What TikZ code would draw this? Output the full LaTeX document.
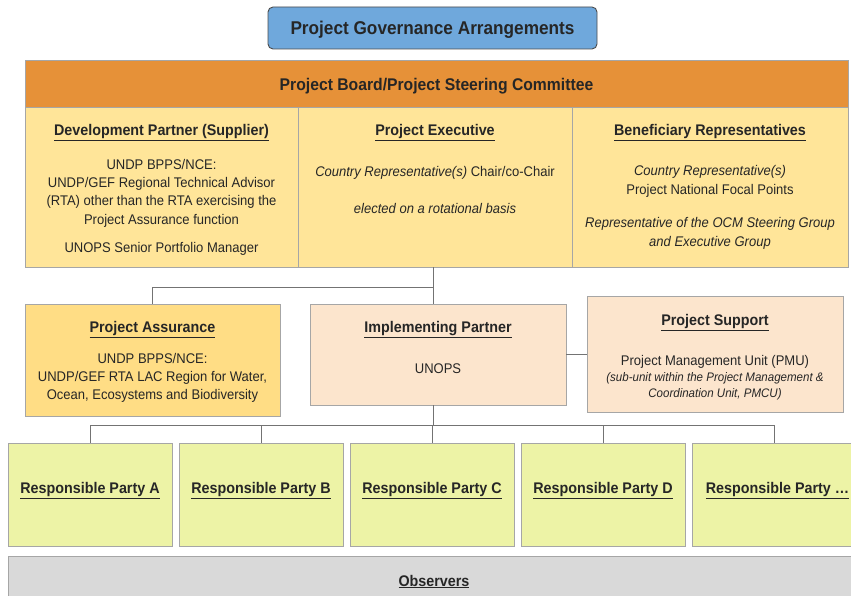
\documentclass[tikz,border=0pt]{standalone}
\usepackage{fontspec}
\setmainfont[FakeStretch=0.93]{Liberation Sans}
\begin{document}
\begin{tikzpicture}[x=1pt,y=-1pt,
  box/.style={draw=black!35,line width=0.9pt,inner sep=0pt,outer sep=0pt,rectangle},
  ttlbox/.style={draw=black!70,line width=0.9pt,rounded corners=5pt,fill=titleblue,inner sep=0pt,outer sep=0pt},
  conn/.style={draw=black!55,line width=1pt},
  txt/.style={inner sep=0pt,align=center,text=black!85,yshift=-2.5pt},
  fT/.style={font=\fontsize{18.5}{22}\selectfont\bfseries},
  fH/.style={font=\fontsize{16.9}{20}\selectfont\bfseries},
  fh/.style={font=\fontsize{15.4}{18}\selectfont},
  fb/.style={font=\fontsize{14}{18.3}\selectfont},
  fs/.style={font=\fontsize{12.4}{16}\selectfont\itshape},
  fr/.style={font=\fontsize{15.4}{18}\selectfont},
]
\definecolor{titleblue}{HTML}{6FA8DC}
\definecolor{boardorange}{HTML}{E69138}
\definecolor{colyellow}{HTML}{FFE599}
\definecolor{assyellow}{HTML}{FFDD85}
\definecolor{peach}{HTML}{FCE5CD}
\definecolor{rpgreen}{HTML}{EDF3A6}
\definecolor{obsgray}{HTML}{D9D9D9}
\newcommand{\hd}[1]{\underline{\textbf{#1}}}
\useasboundingbox (0,0) rectangle (851,596);

% boxes
\node[ttlbox,minimum width=329pt,minimum height=42pt] (title) at (432.5,28) {};
\node[box,fill=boardorange,minimum width=823pt,minimum height=47pt] (board) at (436.5,83.5) {};
\node[box,fill=colyellow,minimum width=273pt,minimum height=160pt] (col1) at (161.5,187) {};
\node[box,fill=colyellow,minimum width=274pt,minimum height=160pt] (col2) at (435,187) {};
\node[box,fill=colyellow,minimum width=276pt,minimum height=160pt] (col3) at (710,187) {};
\node[box,fill=assyellow,minimum width=255pt,minimum height=112pt] (PA) at (152.5,360) {};
\node[box,fill=peach,minimum width=256pt,minimum height=101pt] (IP) at (438,354.5) {};
\node[box,fill=peach,minimum width=256pt,minimum height=116pt] (PS) at (715,354) {};
\node[box,fill=rpgreen,minimum width=164pt,minimum height=103pt] (RA) at (90,494.5) {};
\node[box,fill=rpgreen,minimum width=164pt,minimum height=103pt] (RB) at (261,494.5) {};
\node[box,fill=rpgreen,minimum width=164pt,minimum height=103pt] (RC) at (432,494.5) {};
\node[box,fill=rpgreen,minimum width=164pt,minimum height=103pt] (RD) at (603,494.5) {};
\node[box,fill=rpgreen,minimum width=164pt,minimum height=103pt] (RE) at (774,494.5) {};
\node[box,fill=obsgray,minimum width=852pt,minimum height=50pt] (OB) at (434,581) {};

% connectors
\coordinate (j1) at (433,287);
\coordinate (bus) at (433,425);
\draw[conn] (col2.south -| j1) -- (IP.north -| j1);
\draw[conn] (j1) -| (PA.north);
\draw[conn] (IP.east) -- (IP.east -| PS.west);
\draw[conn] (IP.south -| j1) -- (bus);
\draw[conn] (RA.north) -- (RA.north |- bus) -- (RE.north |- bus) -- (RE.north);
\draw[conn] (RB.north) -- (RB.north |- bus);
\draw[conn] (RC.north) -- (RC.north |- bus);
\draw[conn] (RD.north) -- (RD.north |- bus);

% texts
\node[txt,fT] (tT) at (432.5,27) {Project Governance Arrangements};
\node[txt,fH] (tB) at (436.5,84) {Project Board/Project Steering Committee};

\node[txt,fh] (h1) at (161.5,130) {\hd{Development Partner (Supplier)}};
\node[txt,fb] (b1) at (161.5,190.5) {UNDP BPPS/NCE:\\UNDP/GEF Regional Technical Advisor\\(RTA) other than the RTA exercising the\\Project Assurance function};
\node[txt,fb] (b1b) at (161.5,246) {UNOPS Senior Portfolio Manager};

\node[txt,fh] (h2) at (435,130) {\hd{Project Executive}};
\node[txt,fb] (b2) at (435,170) {\textit{Country Representative(s)} Chair/co-Chair};
\node[txt,fb] (b2b) at (435,206) {\textit{elected on a rotational basis}};

\node[txt,fh] (h3) at (710,130) {\hd{Beneficiary Representatives}};
\node[txt,fb] (b3) at (710,179) {\textit{Country Representative(s)}\\Project National Focal Points};
\node[txt,fb] (b3b) at (710,231) {\textit{Representative of the OCM Steering Group}\\\textit{and Executive Group}};

\node[txt,fh] (hPA) at (152.5,327) {\hd{Project Assurance}};
\node[txt,fb] (bPA) at (152.5,375.5) {UNDP BPPS/NCE:\\UNDP/GEF RTA LAC Region for Water,\\Ocean, Ecosystems and Biodiversity};

\node[txt,fh] (hIP) at (438,327) {\hd{Implementing Partner}};
\node[txt,fb] (bIP) at (438,366) {UNOPS};

\node[txt,fh] (hPS) at (715,320) {\hd{Project Support}};
\node[txt,fb] (bPS) at (715,359) {Project Management Unit (PMU)};
\node[txt,fs] (sPS) at (715,384) {(sub-unit within the Project Management \&\\Coordination Unit, PMCU)};

\node[txt,fr] (tRA) at (90,488) {\hd{Responsible Party A}};
\node[txt,fr] (tRB) at (261,488) {\hd{Responsible Party B}};
\node[txt,fr] (tRC) at (432,488) {\hd{Responsible Party C}};
\node[txt,fr] (tRD) at (603,488) {\hd{Responsible Party D}};
\node[txt,fr] (tRE) at (777.5,488) {\hd{Responsible Party \dots}};
\node[txt,fr] (tOB) at (434,579) {\hd{Observers}};
\end{tikzpicture}
\end{document}
